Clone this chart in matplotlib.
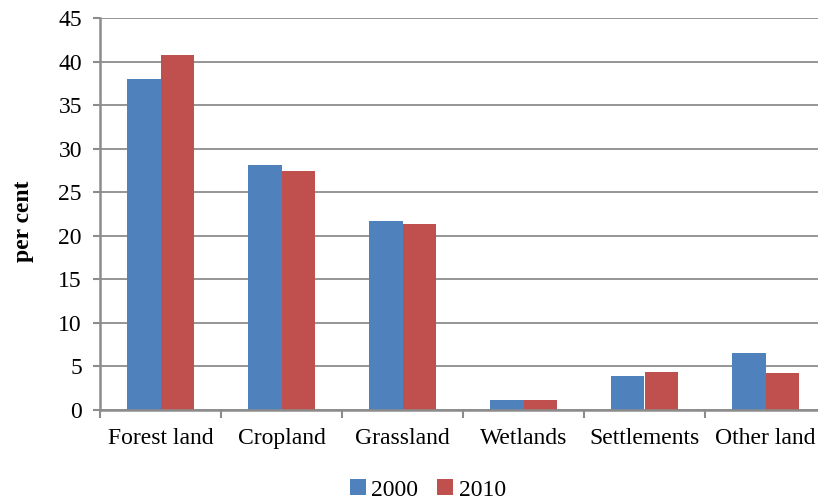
import numpy as np
import matplotlib
matplotlib.use('Agg')
from matplotlib import pyplot as plt

categories = ['Forest land', 'Cropland', 'Grassland', 'Wetlands', 'Settlements', 'Other land']
values_2000 = [38.0, 28.1, 21.7, 1.2, 3.9, 6.5]
values_2010 = [40.7, 27.4, 21.4, 1.2, 4.4, 4.2]

plt.rcParams['font.family'] = ['Liberation Serif', 'DejaVu Serif']

fig = plt.figure(figsize=(8.18, 5.03), dpi=100)
# 绘图区域（右边缘超出画布，和原图一致）
ax = fig.add_axes([100 / 818, 93 / 503, 726 / 818, 392 / 503])

x = np.arange(len(categories))
bw = 0.28
grid_c = '#8c8c8c'
ax.bar(x - bw / 2, values_2000, bw, color='#4F81BD', label='2000', zorder=3)
ax.bar(x + bw / 2, values_2010, bw, color='#C0504D', label='2010', zorder=3)

ax.set_xlim(-0.5, len(categories) - 0.5)
ax.set_ylim(0, 45)
ax.set_yticks(np.arange(0, 46, 5))
ax.yaxis.grid(True, color=grid_c, linewidth=1.3, zorder=0)

ax.set_xticks(x)
ax.set_xticklabels(categories)
ax.set_xticks(np.arange(-0.5, len(categories), 1), minor=True)
ax.tick_params(axis='x', which='major', length=0, pad=13, labelsize=17)
ax.tick_params(axis='x', which='minor', length=6, width=1.5, color=grid_c)
ax.tick_params(axis='y', length=5, width=1.5, color=grid_c, pad=8, labelsize=17)

for s in ['top', 'right']:
    ax.spines[s].set_visible(False)
for s in ['left', 'bottom']:
    ax.spines[s].set_color(grid_c)
    ax.spines[s].set_linewidth(1.8)
    ax.spines[s].set_zorder(4)

fig.text(23 / 818, 0.56, 'per cent', rotation=90, fontsize=17, fontweight='bold',
         ha='center', va='center')

handles, labels = ax.get_legend_handles_labels()
fig.legend(handles, labels, loc='center', bbox_to_anchor=(428 / 818, 13 / 503), ncol=2,
           frameon=False, fontsize=17, handlelength=0.65, handleheight=0.65,
           handletextpad=0.25, columnspacing=0.8, borderpad=0)

fig.savefig('out.png', dpi=100)
